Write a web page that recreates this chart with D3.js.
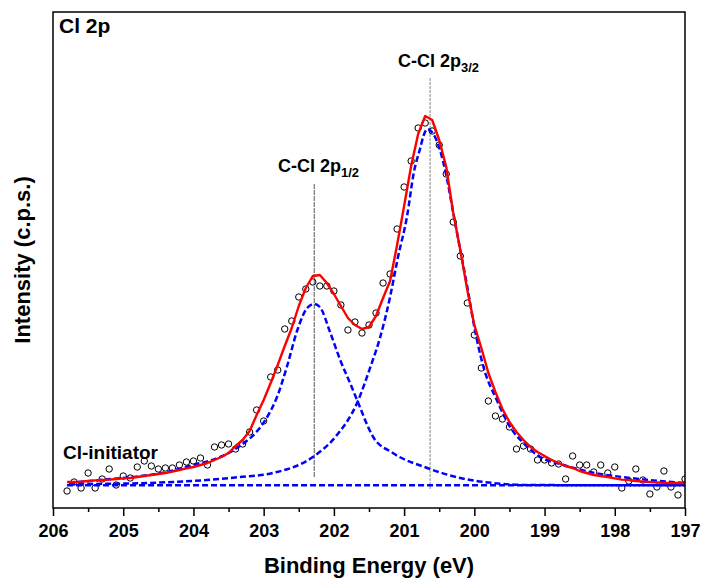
<!DOCTYPE html>
<html>
<head>
<meta charset="utf-8">
<script src="https://cdn.jsdelivr.net/npm/d3@7"></script>
<style>
body { margin: 0; background: #fff; }
text { font-family: "Liberation Sans", Arial, sans-serif; font-weight: bold; fill: #000; }
</style>
</head>
<body>
<div id="chart"></div>
<script>
// measured spectrum (binding energy in eV, intensity in arbitrary c.p.s. units)
const energy = [205.8,205.7,205.6,205.5,205.4,205.3,205.2,205.1,205.0,204.9,
  204.8,204.7,204.6,204.5,204.4,204.3,204.2,204.1,204.0,203.9,
  203.8,203.7,203.6,203.5,203.4,203.3,203.2,203.1,203.0,202.9,
  202.8,202.7,202.6,202.5,202.4,202.3,202.2,202.1,202.0,201.9,
  201.8,201.7,201.6,201.5,201.4,201.3,201.2,201.1,201.0,200.9,
  200.8,200.7,200.6,200.5,200.4,200.3,200.2,200.1,200.0,199.9,
  199.8,199.7,199.6,199.5,199.4,199.3,199.2,199.1,199.0,198.9,
  198.8,198.7,198.6,198.5,198.4,198.3,198.2,198.1,198.0,197.9,
  197.8,197.7,197.6,197.5,197.4,197.3,197.2,197.1,197.0];
const counts = [4.25,6.5,5,8.75,5,7.25,9.75,5.75,8,7.5,
  10.25,11.75,10.5,9.75,10,10,10.75,11.5,11.75,12.5,
  10.75,15.25,15.75,16,14.75,16,19,24.5,21.75,32.75,
  34.5,44.75,46.75,52.75,54.75,56.5,55.5,55.5,54.25,50.75,
  44.5,46.5,43.75,45.75,48.75,56.25,58.5,69.75,80.25,86.75,
  95,96.25,94.25,90.75,83.5,71.5,63,51.25,43.25,35,
  26.75,23,22.25,20.25,14.75,15.5,14.75,12,12,11.25,
  11,7.25,13,10.75,10.75,9,10.75,8.75,10.25,5,
  6.75,9.75,7,3.5,5.25,9.25,5.25,3.25,7.25];
// fitted envelope at the same energies
const envelope = [6.5,6.5,6.6,6.75,6.9,7,7.1,7.25,7.4,7.5,
  7.75,8,8.25,8.5,8.75,9.1,9.5,9.9,10.25,10.75,
  11.25,12,12.75,13.75,15.5,17,19.25,23.25,27,31.25,
  35.75,40.5,45,50.5,55,58,58.25,56.25,53.5,50.5,
  47.5,45.75,44.75,45.25,48,52.5,56.75,65.75,75.5,85.5,
  93.5,98,97,92,85.25,73.75,64.5,54.5,45.75,40,
  33.75,29,24.75,21.5,19,17,15.25,14,13,12,
  11.25,10.5,10,9.25,8.75,8.25,8,7.75,7.4,7.1,
  7,6.75,6.6,6.5,6.4,6.25,6.25,6.25,6.25];
// C-Cl 2p3/2 component
const p32Energy = [205.77,205.0,204.29,203.81,203.34,202.87,202.30,201.98,201.67,201.48,
  201.34,201.20,201.09,200.96,200.86,200.77,200.72,200.67,200.62,200.54,
  200.49,200.40,200.30,200.20,200.10,200.00,199.87,199.68,199.49,199.30,
  199.06,198.78,198.35,197.78,197.0];
const p32 = [6.0,6.1,6.5,7.0,7.75,8.75,12.75,17.75,26.25,35.25,
  42.75,52.75,62.5,72.75,84,90,93.25,94.75,94.25,92,
  89.5,83.25,73.75,64.5,55.25,45.25,35.25,27,20.25,16.25,
  12.75,11,9,7.5,6.25];
// C-Cl 2p1/2 component
const p12Energy = [205.77,205.33,204.86,204.38,204.01,203.62,203.34,203.08,202.95,202.81,
  202.67,202.52,202.38,202.28,202.20,202.05,201.91,201.77,201.67,201.44,
  201.16,200.67,200.20,199.73,199.25,198.21,197.0];
const p12 = [6.25,7,7.75,9,10.75,12.75,15.5,19.5,22.75,27.75,
  35.25,44.5,50,51,50.25,43.75,37,31.25,27,17.75,
  13.75,10,7.5,6.25,5.75,5.7,5.7];
const bgEnergy = [205.8, 197.0];
const background = [5.7, 5.7];
const xTicks = [206,205,204,203,202,201,200,199,198,197];
const xMinor = [205.5,204.5,203.5,202.5,201.5,200.5,199.5,198.5,197.5];
const peakPos = {p12: 202.28, p32: 200.63};

const margin = {top: 12, right: 17, bottom: 70, left: 53},
  width = 702 - margin.left - margin.right,
  height = 578 - margin.top - margin.bottom;

const svg0 = d3.select("#chart").append("svg")
  .attr("width", 702).attr("height", 578);
const svg = svg0.append("g")
  .attr("transform", `translate(${margin.left},${margin.top})`);

const x = d3.scaleLinear().domain([206, 197]).range([0, width]);
const y = d3.scaleLinear().domain([0, 124]).range([height, 0]);

svg.append("clipPath").attr("id", "clip")
  .append("rect").attr("width", width).attr("height", height);
const plot = svg.append("g").attr("clip-path", "url(#clip)");

// peak position markers
plot.append("line")
  .attr("x1", x(peakPos.p12)).attr("x2", x(peakPos.p12))
  .attr("y1", y(81)).attr("y2", y(7.5))
  .attr("stroke", "#555").attr("stroke-width", 1).attr("stroke-dasharray", "5,1");
plot.append("line")
  .attr("x1", x(peakPos.p32)).attr("x2", x(peakPos.p32))
  .attr("y1", y(107.5)).attr("y2", y(4.75))
  .attr("stroke", "#999").attr("stroke-width", 1.2).attr("stroke-dasharray", "3,1");

// data points
plot.selectAll("circle.pt")
  .data(energy.map((e, i) => [e, counts[i]]))
  .join("circle")
  .attr("class", "pt")
  .attr("cx", d => x(d[0])).attr("cy", d => y(d[1]))
  .attr("r", 3.2)
  .attr("fill", "none").attr("stroke", "#000").attr("stroke-width", 1);

const smooth = d3.line().x(d => x(d[0])).y(d => y(d[1])).curve(d3.curveMonotoneX);
const straight = d3.line().x(d => x(d[0])).y(d => y(d[1]));

const comps = [
  bgEnergy.map((e, i) => [e, background[i]]),
  p12Energy.map((e, i) => [e, p12[i]]),
  p32Energy.map((e, i) => [e, p32[i]])
];
plot.selectAll("path.comp")
  .data(comps)
  .join("path")
  .attr("class", "comp")
  .attr("d", smooth)
  .attr("fill", "none").attr("stroke", "#0000ff")
  .attr("stroke-width", 2.5).attr("stroke-dasharray", "6,3");

plot.append("path")
  .datum(energy.map((e, i) => [e, envelope[i]]))
  .attr("d", straight)
  .attr("fill", "none").attr("stroke", "#ff0000").attr("stroke-width", 2.4)
  .attr("stroke-linejoin", "round");

// axes
svg.append("g")
  .attr("transform", `translate(0,${height})`)
  .call(d3.axisBottom(x).tickValues(xMinor).tickSize(4).tickFormat(""))
  .call(g => g.select(".domain").remove())
  .selectAll("line").attr("stroke-width", 1.5);
const xa = svg.append("g")
  .attr("transform", `translate(0,${height})`)
  .call(d3.axisBottom(x).tickValues(xTicks).tickSize(8).tickPadding(8).tickFormat(d3.format("d")))
  .call(g => g.select(".domain").remove());
xa.selectAll("line").attr("stroke-width", 1.5);
xa.selectAll("text").style("font-size", "18px").style("font-family", null).attr("fill", null);
xa.attr("font-family", null).attr("font-size", null);

svg.append("rect")
  .attr("width", width).attr("height", height)
  .attr("fill", "none").attr("stroke", "#000").attr("stroke-width", 1.5);

// titles
svg0.append("text")
  .attr("x", margin.left + width / 2).attr("y", 573)
  .attr("text-anchor", "middle").style("font-size", "22px")
  .text("Binding Energy (eV)");
svg0.append("text")
  .attr("transform", `translate(30,${margin.top + height / 2}) rotate(-90)`)
  .attr("text-anchor", "middle").style("font-size", "22px")
  .text("Intensity (c.p.s.)");

// annotations
svg0.append("text").attr("x", 59).attr("y", 33).style("font-size", "21px").text("Cl 2p");
svg0.append("text").attr("x", 63).attr("y", 459).style("font-size", "19px").text("Cl-initiator");

function peakLabel(px, py, sub) {
  const t = svg0.append("text").attr("x", px).attr("y", py).style("font-size", "18px");
  t.append("tspan").text("C-Cl 2p");
  t.append("tspan").attr("dy", 5).style("font-size", "13px").text(sub);
}
peakLabel(278, 172, "1/2");
peakLabel(398, 67, "3/2");
</script>
</body>
</html>
